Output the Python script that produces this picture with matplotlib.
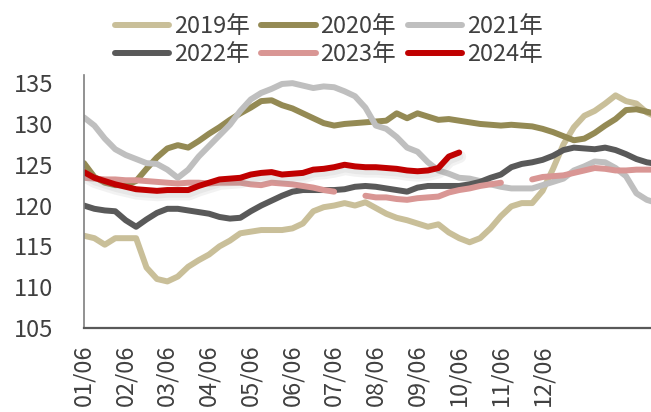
import numpy as np
import matplotlib.pyplot as plt
import matplotlib.patheffects as pe
from matplotlib.lines import Line2D

plt.rcParams['font.family'] = ['Noto Sans CJK SC', 'DejaVu Sans']

# 每周数据
nan = np.nan
s2019 = [116.3, 116.0, 115.2, 116.0, 116.0, 116.0, 112.4, 111.0, 110.7, 111.3,
         112.5, 113.3, 114.0, 115.0, 115.7, 116.6, 116.8, 117.0, 117.0, 117.0,
         117.2, 117.8, 119.3, 119.8, 120.0, 120.3, 120.0, 120.4, 119.7, 119.0,
         118.5, 118.2, 117.8, 117.4, 117.7, 116.7, 116.0, 115.5, 116.0, 117.2,
         118.7, 119.9, 120.3, 120.3, 121.8, 124.5, 127.5, 129.6, 131.0, 131.6,
         132.5, 133.5, 132.8, 132.5, 131.4, 130.8]
s2020 = [125.2, 123.5, 122.8, 122.5, 122.5, 123.0, 124.5, 125.9, 127.0, 127.4,
         127.1, 127.9, 128.8, 129.6, 130.5, 131.3, 132.0, 132.8, 132.9, 132.3,
         131.9, 131.3, 130.7, 130.1, 129.8, 130.0, 130.1, 130.2, 130.3, 130.4,
         131.3, 130.7, 131.3, 130.9, 130.5, 130.6, 130.4, 130.2, 130.0, 129.9,
         129.8, 129.9, 129.8, 129.7, 129.4, 129.0, 128.5, 128.0, 128.2, 128.9,
         129.8, 130.6, 131.7, 131.8, 131.5, 131.2]
s2021 = [130.8, 129.8, 128.2, 126.9, 126.2, 125.7, 125.2, 125.1, 124.4, 123.4,
         124.4, 126.0, 127.3, 128.6, 129.9, 131.6, 133.0, 133.8, 134.3, 134.9,
         135.0, 134.7, 134.4, 134.6, 134.5, 134.0, 133.4, 132.0, 129.8, 129.4,
         128.4, 127.1, 126.6, 125.3, 124.3, 123.9, 123.4, 123.3, 123.0, 122.6,
         122.3, 122.1, 122.1, 122.1, 122.5, 122.9, 123.3, 124.3, 124.8, 125.4,
         125.3, 124.6, 123.6, 121.5, 120.7, 120.3]
s2022 = [120.0, 119.6, 119.4, 119.3, 118.2, 117.4, 118.3, 119.1, 119.6, 119.6,
         119.4, 119.2, 119.0, 118.6, 118.4, 118.5, 119.3, 120.0, 120.6, 121.2,
         121.7, 121.9, 121.9, 121.9, 121.9, 122.0, 122.3, 122.4, 122.3, 122.1,
         121.9, 121.7, 122.2, 122.4, 122.4, 122.4, 122.4, 122.6, 122.9, 123.4,
         123.8, 124.7, 125.1, 125.3, 125.6, 126.1, 126.8, 127.1, 127.0, 126.9,
         127.1, 126.8, 126.3, 125.7, 125.3, 125.1]
s2023 = [123.4, 123.3, 123.2, 123.2, 123.1, 123.1, 123.0, 122.9, 122.8, 122.7,
         122.8, 122.8, 122.7, 122.8, 122.8, 122.8, 122.6, 122.5, 122.8, 122.7,
         122.6, 122.4, 122.2, 121.9, 121.7, nan, nan, 121.2, 121.0, 121.0,
         120.8, 120.7, 120.9, 121.0, 121.1, 121.6, 121.9, 122.1, 122.4, 122.6,
         122.8, nan, nan, 123.2, 123.5, 123.6, 123.7, 124.0, 124.3, 124.6,
         124.5, 124.3, 124.3, 124.4, 124.4, 124.4]
s2024 = [124.1, 123.4, 123.0, 122.6, 122.3, 122.0, 121.9, 121.8, 121.9, 121.9,
         121.9, 122.4, 122.8, 123.2, 123.3, 123.4, 123.8, 124.0, 124.1, 123.8,
         123.9, 124.0, 124.4, 124.5, 124.7, 125.0, 124.8, 124.7, 124.7, 124.6,
         124.5, 124.3, 124.2, 124.3, 124.6, 126.0, 126.5]

labels = ['2019年', '2020年', '2021年', '2022年', '2023年', '2024年']
colors = ['#C9BF99', '#948A54', '#BFBFBF', '#595959', '#D99694', '#C00000']
tick_labels = ['01/06', '02/06', '03/06', '04/06', '05/06', '06/06',
               '07/06', '08/06', '09/06', '10/06', '11/06', '12/06']

fig = plt.figure(figsize=(6.51, 4.12), dpi=100)
ax = fig.add_axes([0.129, 0.204, 0.871, 0.614])

series = [s2019, s2020, s2021, s2022, s2023, s2024]
for data, lab, c in zip(series, labels, colors):
    y = np.array(data, dtype=float)
    x = np.arange(len(y))
    ln, = ax.plot(x, y, color=c, lw=4.3, solid_capstyle='round',
                  solid_joinstyle='round', label=lab)
    if lab == '2024年':
        # 2024年带淡阴影
        ln.set_path_effects([pe.SimpleLineShadow(offset=(0.5, -3), shadow_color='#999999',
                                                 alpha=0.12, linewidth=9),
                             pe.SimpleLineShadow(offset=(0.5, -3), shadow_color='#999999',
                                                 alpha=0.12, linewidth=5),
                             pe.Normal()])

ax.set_xlim(0, 54.4)
ax.set_ylim(105, 136)
ax.set_yticks(range(105, 136, 5))
ax.set_xticks(range(0, 48, 4))
ax.set_xticklabels(tick_labels, rotation=90)
ax.tick_params(axis='both', length=0, labelsize=17, colors='#404040')
ax.tick_params(axis='x', pad=12)
ax.tick_params(axis='y', pad=22)

for s in ['top', 'right']:
    ax.spines[s].set_visible(False)
ax.spines['left'].set_color('#7F7F7F')
ax.spines['left'].set_linewidth(1.2)
ax.spines['bottom'].set_color('#595959')
ax.spines['bottom'].set_linewidth(1.6)

# 图例：按行排列，legend按列填充，所以调整顺序
order = [0, 3, 1, 4, 2, 5]
handles = [Line2D([], [], color=colors[k], lw=4.3, solid_capstyle='round') for k in order]
fig.legend(handles, [labels[k] for k in order], ncol=3, loc='upper center',
           bbox_to_anchor=(0.505, 1.015), frameon=False, fontsize=17,
           handlelength=2.3, handletextpad=0.2, columnspacing=0.5,
           labelspacing=0.2, labelcolor='#404040')

plt.savefig('out.png', dpi=100)
